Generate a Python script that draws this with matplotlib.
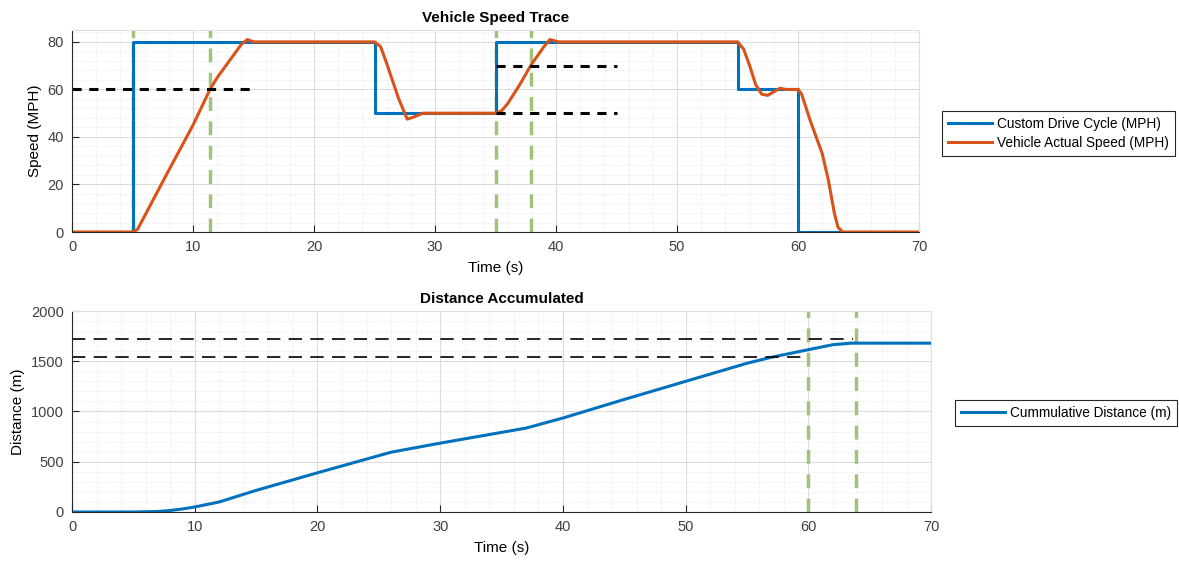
import numpy as np
import matplotlib
matplotlib.use('Agg')
import matplotlib.pyplot as plt
from matplotlib.ticker import MultipleLocator

plt.rcParams['font.family'] = ['Liberation Sans', 'DejaVu Sans']

# drive cycle command (step values, held until next time)
cycle_t = [0, 5, 25, 35, 55, 60, 70]
cycle_v = [0, 80, 50, 80, 60, 0, 0]

# vehicle actual speed
actual_t = [0, 5, 5.4, 8, 10, 11.4, 12, 13, 14, 14.5, 15, 25, 25.5, 26, 27, 27.7,
            28.3, 29, 35, 35.5, 36, 37, 37.9, 39, 39.5, 40.2, 55, 55.5, 56, 56.5,
            57, 57.5, 58, 58.5, 59, 60, 60.3, 61, 62, 62.5, 63, 63.3, 63.7, 70]
actual_v = [0, 0, 1, 26, 45, 60, 65, 72, 79, 81, 80, 80, 78, 71, 56, 47.5,
            48.5, 50, 50, 51, 54, 62, 70, 78, 81, 80, 80, 77, 70, 62,
            58, 57.5, 59, 60.5, 60, 60, 58, 47, 33, 22, 8, 2, 0, 0]

# cumulative distance (m)
dist_t = [0, 5, 7, 8, 9, 10, 12, 15, 20, 26, 30, 37, 40, 45, 50, 55, 57, 60, 62, 63.5, 70]
dist_m = [0, 0, 5, 15, 30, 50, 100, 215, 390, 595, 685, 835, 935, 1120, 1300, 1480,
          1540, 1615, 1665, 1680, 1680]

# marker lines
speed_marks = [(60, 0, 15), (70, 35, 45), (50, 35, 45)]
speed_times = [5, 11.4, 35, 37.9]
dist_marks = [(1720, 0, 63.6), (1540, 0, 59.6)]
dist_times = [60, 63.9]

blue = '#0072BD'
orange = '#D95319'
green = '#A2C27A'

fig = plt.figure(figsize=(11.79, 5.63), dpi=100)
ax1 = fig.add_axes([0.0611, 0.5879, 0.7184, 0.3588])
ax2 = fig.add_axes([0.0611, 0.0906, 0.7286, 0.3570])


def style(ax):
    ax.grid(True, which='major', color='#dcdcdc', lw=0.8)
    ax.grid(True, which='minor', color='#e4e4e4', lw=0.6, linestyle=':')
    ax.set_axisbelow(True)
    for s in ['top', 'right']:
        ax.spines[s].set_color('#e0e0e0')
    for s in ['left', 'bottom']:
        ax.spines[s].set_color('#262626')
    ax.tick_params(which='both', direction='in', labelsize=10.5, colors='#262626',
                   labelcolor='#404040', top=False, right=False)
    ax.tick_params(which='minor', length=0)
    ax.tick_params(which='major', length=5, pad=6)


def legend(ax, x, y):
    leg = ax.legend(loc='upper left', bbox_to_anchor=(x / 1179, 1 - y / 563),
                    bbox_transform=fig.transFigure, fontsize=9.8, fancybox=False,
                    edgecolor='#262626', framealpha=1, handlelength=3.2,
                    borderpad=0.45, labelspacing=0.35, handletextpad=0.4,
                    borderaxespad=0)
    leg.get_frame().set_linewidth(0.8)
    return leg


# speed trace
ax1.plot(cycle_t, cycle_v, drawstyle='steps-post', color=blue, lw=2.2,
         label='Custom Drive Cycle (MPH)')
ax1.plot(actual_t, actual_v, color=orange, lw=2.2, label='Vehicle Actual Speed (MPH)')
for tv in speed_times:
    ax1.axvline(tv, color=green, lw=2.5, linestyle=(0, (4, 3)), zorder=1.5)
for yv, x0, x1 in speed_marks:
    ax1.plot([x0, x1], [yv, yv], color='black', lw=2.2, linestyle=(0, (3, 2.5)))
ax1.set_xlim(0, 70)
ax1.set_ylim(0, 85)
ax1.set_yticks([0, 20, 40, 60, 80])
ax1.xaxis.set_minor_locator(MultipleLocator(2))
ax1.yaxis.set_minor_locator(MultipleLocator(4))
ax1.set_title('Vehicle Speed Trace', fontsize=11, fontweight='bold', pad=6)
ax1.set_xlabel('Time (s)', fontsize=11, labelpad=5)
ax1.set_ylabel('Speed (MPH)', fontsize=11, labelpad=4)
style(ax1)
legend(ax1, 942, 111)

# distance
ax2.plot(dist_t, dist_m, color=blue, lw=2.2, label='Cummulative Distance (m)')
for yv, x0, x1 in dist_marks:
    ax2.plot([x0, x1], [yv, yv], color='black', lw=1.2, linestyle=(0, (8, 5)))
for tv in dist_times:
    ax2.axvline(tv, color=green, lw=2.5, linestyle=(0, (4, 3)), zorder=1.5)
ax2.set_xlim(0, 70)
ax2.set_ylim(0, 2000)
ax2.xaxis.set_minor_locator(MultipleLocator(2))
ax2.yaxis.set_minor_locator(MultipleLocator(100))
ax2.set_title('Distance Accumulated', fontsize=11, fontweight='bold', pad=6)
ax2.set_xlabel('Time (s)', fontsize=11, labelpad=5)
ax2.set_ylabel('Distance (m)', fontsize=11, labelpad=4)
style(ax2)
legend(ax2, 955, 400)

fig.savefig('out.png', dpi=100, facecolor='white')
